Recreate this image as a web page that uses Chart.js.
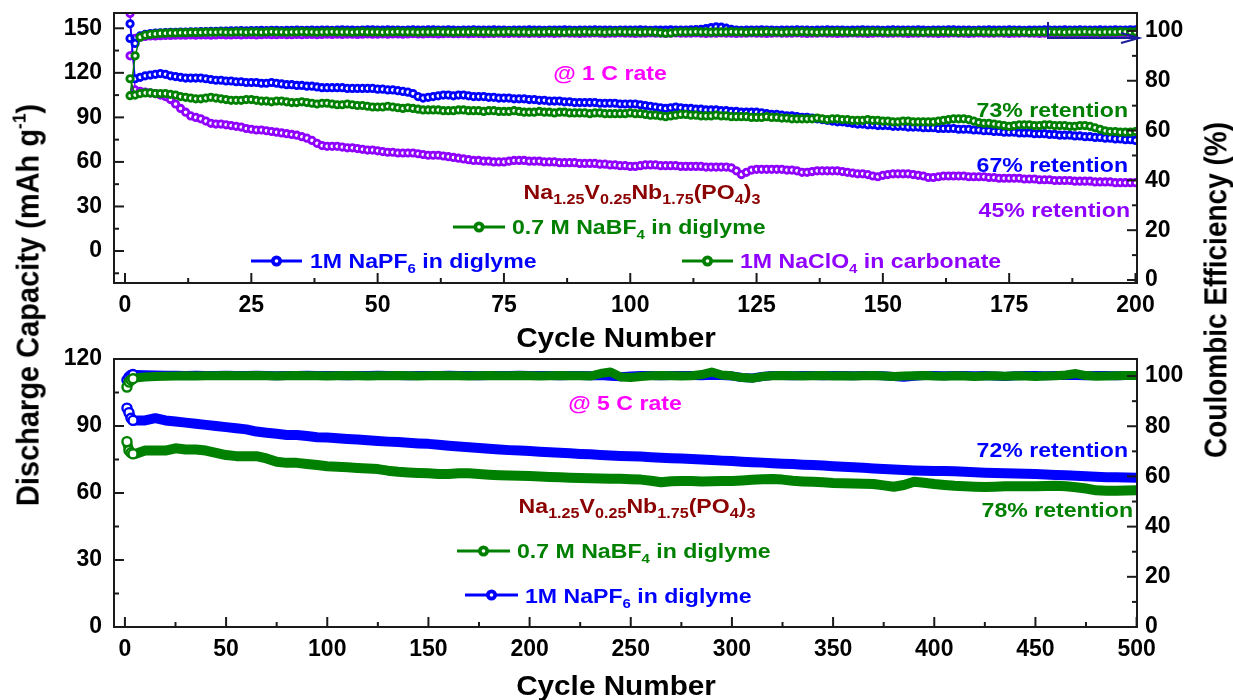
<!DOCTYPE html>
<html>
<head>
<meta charset="utf-8">
<script src="https://cdn.jsdelivr.net/npm/chart.js@4.4.0/dist/chart.umd.min.js"></script>
<style>
body { margin: 0; background: #fff; width: 1233px; height: 700px; position: relative; overflow: hidden; font-family: "Liberation Sans", Arial, sans-serif; }
#top { position: absolute; left: 0; top: 0; }
#bot { position: absolute; left: 0; top: 340px; }
.ytitle { position: absolute; font-weight: bold; font-size: 28px; white-space: nowrap; color: #000; transform: translate(-50%, -50%) rotate(-90deg) scaleY(1.1); }
.ytitle sup { font-size: 0.6em; vertical-align: 0.7em; line-height: 0; }
</style>
</head>
<body>
<canvas id="top" width="1233" height="360"></canvas>
<canvas id="bot" width="1233" height="360"></canvas>
<div class="ytitle" style="left:28px; top:305px; font-size:29px;">Discharge Capacity (mAh g<sup>-1</sup>)</div>
<div class="ytitle" style="left:1216px; top:290px;">Coulombic Efficiency (%)</div>
<script>
// ---------- data: 1 C rate, cycles 1..200 ----------
var cycles1C = [];
for (var i = 1; i <= 200; i++) cycles1C.push(i);

var capPF6_1C = [
  153, 116, 117, 118, 118.5, 119, 119.5, 119, 118, 117.5,
  117, 116.5, 116.5, 116.5, 116.5, 116, 115.5, 115, 115, 114.5,
  114.5, 114, 114, 113.5, 113.5, 113.5, 113, 113, 113.5, 113,
  112.5, 112, 112, 111.5, 111.5, 111, 111, 110.5, 110, 110,
  110, 110, 110, 109.5, 109.5, 109.5, 109.5, 109.5, 109.5, 109,
  109, 108.5, 108.5, 108, 107.5, 107, 106, 104, 103, 103.5,
  104, 104.5, 105, 105, 104.5, 105, 105, 104.5, 104, 104,
  104, 103.5, 103.5, 103, 103, 103, 102.5, 102.5, 102.5, 102,
  102, 101.5, 101.5, 101, 101, 101, 100.5, 100.5, 100, 100,
  100, 100, 100, 99.5, 99.5, 99.5, 99.5, 99, 99, 99,
  99, 98.5, 98, 97.5, 97, 96.5, 96, 96.5, 97, 96.5,
  96, 96, 95.5, 95.5, 95, 95, 95, 94.5, 94.5, 94,
  94, 93.5, 93.5, 93.5, 93.5, 93, 92.5, 92, 92, 91.5,
  91, 91, 90.5, 90, 90, 89.5, 89, 88.5, 88, 87.5,
  87, 87, 86.5, 86, 85.5, 85.5, 85, 85, 84.5, 84.5,
  84.5, 84, 84, 84, 83.5, 83.5, 83.5, 83, 83, 83,
  82.5, 82.5, 82.5, 82.5, 82, 82, 82, 81.5, 81.5, 81,
  81, 80.5, 80.5, 80, 80, 80, 79.5, 79.5, 79.5, 79,
  79, 79, 78.5, 78.5, 78, 78, 78, 77.5, 77.5, 77,
  77, 76.5, 76.5, 76, 76, 75.5, 75.5, 75, 75, 74.5
];
var capBF4_1C = [
  116, 105, 106, 106.5, 106.5, 106, 106, 106, 105.5, 105,
  104, 103.5, 103, 102.5, 102.5, 103, 103.5, 103, 102.5, 102,
  101.5, 101.5, 101.5, 102, 102, 101.5, 101, 101, 100.5, 101,
  101, 100.5, 100, 100, 100.5, 100, 99.5, 99, 99.5, 99.5,
  99, 98.5, 98.5, 99, 98.5, 98, 98, 97.5, 97, 97,
  97, 97.5, 97, 96.5, 96, 96.5, 96, 95.5, 95, 95,
  95, 95, 94.5, 94.5, 94.5, 95, 95, 94.5, 94.5, 94.5,
  94, 94.5, 94.5, 94, 94, 94, 94.5, 94, 93.5, 93.5,
  93.5, 94, 93.5, 93.5, 93, 93.5, 93.5, 93, 93, 93,
  93, 92.5, 93, 93, 92.5, 92.5, 92.5, 92.5, 92.5, 93,
  92.5, 92.5, 92, 91.5, 91.5, 91, 90.5, 91, 91.5, 92,
  92, 91.5, 91.5, 91, 91, 91, 91.5, 91, 91, 90.5,
  90.5, 90.5, 90.5, 90, 90, 90, 90.5, 90, 90, 89.5,
  89.5, 89, 89, 89, 89, 89, 89.5, 89, 88.5, 89,
  89, 88.5, 88.5, 88, 88, 88, 88.5, 88, 88, 87.5,
  87.5, 87, 87, 87.5, 87.5, 87, 87, 87, 87, 87,
  87.5, 88, 88.5, 89, 89, 89, 88.5, 87.5, 86.5, 86,
  86, 85.5, 85, 84.5, 84, 84.5, 85, 85, 85, 84.5,
  84.5, 85, 85, 84.5, 84.5, 84.5, 84, 84, 84.5, 84.5,
  84, 83, 82, 81, 80.5, 80.5, 80, 80, 80, 80.5
];
var capClO4_1C = [
  160, 108.5, 107.5, 107, 106.5, 106, 105, 104, 102, 99,
  96, 93.5, 91, 90, 89, 87.5, 86, 85.5, 85.5, 85,
  84.5, 84, 83.5, 82.5, 82, 81.5, 81.5, 81, 80.5, 80,
  79.5, 79, 78.5, 78, 77, 76, 74.5, 72.5, 71, 70.5,
  70.5, 70.5, 70, 69.5, 69.5, 69, 68.5, 68, 68, 67.5,
  67, 66.5, 66.5, 66, 66, 66, 66, 65.5, 65, 64.5,
  64.5, 64.5, 64, 63.5, 63, 62.5, 62, 61.5, 61, 61,
  60.5, 60.5, 60, 60, 60, 60.5, 61, 61, 61, 60.5,
  60.5, 60.5, 60, 60, 60, 59.5, 59.5, 59.5, 59.5, 59,
  59, 59, 59, 58.5, 58.5, 58, 58, 57.5, 57.5, 57,
  57, 57.5, 58, 58, 58, 57.5, 57.5, 57.5, 57.5, 57,
  57, 57, 57, 57, 56.5, 56.5, 56.5, 56.5, 56.5, 56,
  54, 51.5, 53, 54.5, 55, 55, 55, 55, 55, 55,
  54.5, 54.5, 54, 53, 53, 53.5, 54, 54, 54, 54,
  54, 53.5, 53, 52.5, 52, 52, 51.5, 50.5, 50, 51,
  51.5, 52, 52, 52, 52, 51.5, 51, 50.5, 49.5, 49.5,
  50, 50.5, 50.5, 50.5, 50.5, 50.5, 50, 50, 50, 50,
  49.5, 49.5, 49, 49, 49, 49, 49, 48.5, 48.5, 48.5,
  48, 48, 48, 47.5, 47.5, 47.5, 47.5, 47, 47, 47,
  47, 46.5, 46.5, 46.5, 46.5, 46, 46, 46, 46, 46
];
var cePF6_1C = [
  97, 95, 98, 98.6, 98.9, 99.1, 99.2, 99.3, 99.4, 99.4,
  99.5, 99.5, 99.6, 99.6, 99.7, 99.7, 99.8, 99.8, 99.9, 99.9,
  100, 100, 100.1, 100, 100.1, 100.1, 100.2, 100.1, 100.2, 100.2,
  100.1, 100.2, 100.2, 100.3, 100.2, 100.2, 100.3, 100.2, 100.3, 100.3,
  100.2, 100.3, 100.4, 100.3, 100.3, 100.2, 100.3, 100.4, 100.4, 100.3,
  100.3, 100.4, 100.3, 100.3, 100.2, 100.3, 100.4, 100.3, 100.3, 100.4,
  100.4, 100.3, 100.3, 100.4, 100.3, 100.2, 100.3, 100.3, 100.4, 100.3,
  100.3, 100.3, 100.4, 100.3, 100.3, 100.2, 100.3, 100.3, 100.3, 100.4,
  100.3, 100.3, 100.2, 100.3, 100.3, 100.3, 100.4, 100.3, 100.2, 100.3,
  100.3, 100.3, 100.4, 100.3, 100.3, 100.3, 100.2, 100.3, 100.3, 100.3,
  100.3, 100.4, 100.3, 100.2, 100.3, 100.3, 100.3, 100.4, 100.3, 100.3,
  100.3, 100.4, 100.5, 100.6, 100.9, 101.3, 101.6, 101.5, 101.1, 100.6,
  100.3, 100.2, 100.3, 100.3, 100.3, 100.4, 100.3, 100.3, 100.2, 100.3,
  100.3, 100.3, 100.4, 100.3, 100.3, 100.2, 100.3, 100.3, 100.4, 100.3,
  100.3, 100.3, 100.2, 100.3, 100.3, 100.4, 100.3, 100.3, 100.3, 100.2,
  100.3, 100.4, 100.3, 100.3, 100.3, 100.3, 100.4, 100.3, 100.2, 100.3,
  100.3, 100.3, 100.4, 100.4, 100.3, 100.3, 100.3, 100.2, 100.3, 100.3,
  100.4, 100.3, 100.3, 100.3, 100.4, 100.3, 100.3, 100.2, 100.3, 100.3,
  100.3, 100.4, 100.3, 100.3, 100.3, 100.4, 100.3, 100.3, 100.4, 100.3,
  100.3, 100.3, 100.4, 100.3, 100.3, 100.4, 100.3, 100.3, 100.4, 100.4
];
var ceBF4_1C = [
  74, 90, 97.5, 98.3, 98.6, 98.8, 99, 99.1, 99.2, 99.2,
  99.3, 99.3, 99.4, 99.4, 99.4, 99.5, 99.5, 99.5, 99.6, 99.5,
  99.5, 99.6, 99.6, 99.5, 99.6, 99.6, 99.5, 99.6, 99.7, 99.6,
  99.6, 99.5, 99.6, 99.6, 99.7, 99.6, 99.6, 99.5, 99.6, 99.6,
  99.7, 99.6, 99.6, 99.6, 99.5, 99.6, 99.7, 99.6, 99.6, 99.6,
  99.5, 99.6, 99.6, 99.7, 99.6, 99.6, 99.6, 99.5, 99.6, 99.6,
  99.6, 99.7, 99.6, 99.6, 99.5, 99.6, 99.6, 99.6, 99.7, 99.6,
  99.6, 99.6, 99.5, 99.6, 99.6, 99.7, 99.6, 99.6, 99.6, 99.5,
  99.6, 99.6, 99.6, 99.7, 99.6, 99.6, 99.5, 99.6, 99.6, 99.6,
  99.7, 99.6, 99.6, 99.6, 99.5, 99.6, 99.6, 99.7, 99.6, 99.6,
  99.6, 99.5, 99.6, 99.6, 99.5, 99.3, 99.1, 99.2, 99.5, 99.6,
  99.6, 99.6, 99.7, 99.6, 99.6, 99.5, 99.6, 99.6, 99.6, 99.7,
  99.6, 99.6, 99.5, 99.6, 99.6, 99.6, 99.7, 99.6, 99.6, 99.5,
  99.6, 99.6, 99.6, 99.7, 99.6, 99.6, 99.5, 99.6, 99.6, 99.6,
  99.7, 99.6, 99.6, 99.5, 99.6, 99.6, 99.6, 99.7, 99.6, 99.6,
  99.5, 99.6, 99.6, 99.6, 99.7, 99.6, 99.6, 99.5, 99.6, 99.6,
  99.6, 99.7, 99.6, 99.6, 99.5, 99.6, 99.6, 99.6, 99.7, 99.6,
  99.6, 99.5, 99.6, 99.6, 99.6, 99.7, 99.6, 99.6, 99.5, 99.6,
  99.6, 99.6, 99.7, 99.6, 99.6, 99.5, 99.6, 99.6, 99.6, 99.7,
  99.6, 99.6, 99.5, 99.6, 99.6, 99.6, 99.7, 99.6, 99.6, 99.6
];
var ceClO4_1C = [
  90, 97, 97.5, 97.8, 98, 98, 98.1, 98.2, 98.2, 98.3,
  98.3, 98.3, 98.4, 98.3, 98.4, 98.4, 98.3, 98.4, 98.5, 98.4,
  98.4, 98.5, 98.4, 98.5, 98.5, 98.4, 98.5, 98.6, 98.5, 98.5,
  98.6, 98.5, 98.5, 98.6, 98.5, 98.6, 98.6, 98.5, 98.6, 98.7,
  98.6, 98.7, 98.6, 98.7, 98.7, 98.6, 98.7, 98.8, 98.7, 98.7,
  98.8, 98.7, 98.8, 98.8, 98.7, 98.8, 98.9, 98.8, 98.8, 98.9,
  98.9, 98.8, 98.9, 99, 98.9, 98.9, 99, 98.9, 99, 99,
  98.9, 99, 99, 99.1, 99, 99, 99.1, 99, 99.1, 99,
  99.1, 99, 99.1, 99.1, 99, 99.1, 99.2, 99.1, 99.1, 99,
  99.1, 99.1, 99.2, 99.1, 99, 99.1, 99.1, 99.2, 99.1, 99.1,
  99, 99.1, 99.1, 99.2, 99.1, 99.1, 99, 99.1, 99.2, 99.1,
  99.1, 99.1, 99.2, 99.1, 99, 99.1, 99.1, 99.2, 99.1, 99.1,
  99, 99.1, 99.1, 99.2, 99.1, 99.1, 99, 99.1, 99.2, 99.1,
  99.1, 99.1, 99.2, 99.1, 99, 99.1, 99.1, 99.2, 99.1, 99.1,
  99, 99.1, 99.1, 99.2, 99.1, 99.1, 99, 99.1, 99.2, 99.1,
  99.1, 99.1, 99.2, 99.1, 99, 99.1, 99.1, 99.2, 99.1, 99.1,
  99, 99.1, 99.1, 99.2, 99.1, 99.1, 99, 99.1, 99.2, 99.1,
  99.1, 99.1, 99.2, 99.1, 99, 99.1, 99.1, 99.2, 99.1, 99.1,
  99, 99.1, 99.1, 99.2, 99.1, 99.1, 99, 99.1, 99.2, 99.1,
  99.1, 99.1, 99.2, 99.1, 99, 99.1, 99.1, 99.2, 99.1, 99.1
];

// ---------- data: 5 C rate, cycles 1-4 then every 5th cycle up to 500 ----------
var cycles5C = [1, 2, 3, 4];
for (var c = 5; c <= 500; c += 5) cycles5C.push(c);

var capPF6_5C = [
  98, 96, 93.5, 92.5,
  92.5, 92.5, 93.5, 92.5, 92, 91.5, 91, 90.5, 90, 89.5,
  89, 88.5, 87.5, 87, 86.5, 86, 86, 85.5, 85, 84.8,
  84.5, 84.2, 84, 83.6, 83.3, 83, 82.8, 82.5, 82.2, 82,
  81.6, 81.2, 80.8, 80.5, 80.2, 79.8, 79.5, 79.2, 79, 78.8,
  78.5, 78.2, 78, 77.8, 77.5, 77.3, 77, 76.8, 76.6, 76.5,
  76.3, 76, 75.8, 75.6, 75.4, 75.2, 75, 74.8, 74.5, 74.3,
  74, 73.8, 73.6, 73.3, 73.1, 73, 72.7, 72.5, 72.3, 72,
  71.8, 71.5, 71.3, 71, 70.8, 70.5, 70.3, 70.1, 70, 69.9,
  69.8, 69.7, 69.5, 69.3, 69.1, 69, 68.8, 68.7, 68.6, 68.5,
  68.3, 68.1, 67.9, 67.7, 67.5, 67.3, 67.1, 67, 66.9, 66.8
];
var capBF4_5C = [
  83, 79, 78, 77.5,
  77.5, 79, 79, 79, 80, 79.5, 79.5, 79, 78, 77,
  76.5, 76.5, 76.5, 75.5, 74, 73.5, 73.5, 73, 72.5, 72,
  71.8, 71.5, 71.2, 71, 70.7, 70, 69.5, 69.2, 69, 68.8,
  68.5, 68.5, 68.8, 68.8, 68.5, 68.2, 68, 67.8, 67.7, 67.6,
  67.4, 67.2, 67, 66.8, 66.7, 66.6, 66.5, 66.4, 66.4, 66.2,
  66, 65.5, 64.8, 65.3, 65.4, 65.4, 65.2, 65.3, 65.4, 65.4,
  65.6, 65.9, 66.2, 66.3, 66, 65.5, 65.2, 65, 64.8, 64.5,
  64.4, 64.2, 64.1, 64, 63.4, 62.8, 63.6, 65, 64.6, 64,
  63.6, 63.2, 63, 62.8, 62.7, 62.8, 63, 63, 63, 63,
  63.1, 63.2, 63, 62.6, 62, 61.2, 61, 61, 61.1, 61.2
];
var cePF6_5C = [
  98.4, 99.6, 100.3, 100.6,
  100.6, 100.5, 100.4, 100.3, 100.3, 100.2, 100.3, 100.2, 100.2, 100.3,
  100.2, 100.2, 100.3, 100.2, 100.1, 100.2, 100.2, 100.3, 100.2, 100.2,
  100.2, 100.1, 100.2, 100.2, 100.3, 100.2, 100.2, 100.1, 100.2, 100.2,
  100.2, 100.3, 100.2, 100.2, 100.1, 100.2, 100.2, 100.2, 100.3, 100.2,
  100.2, 100.2, 100.1, 100.2, 100.2, 100.1, 100.2, 99.9, 99.7, 100,
  100.2, 100.2, 100.1, 100.2, 100.2, 100.2, 100.1, 100.3, 100.2, 100,
  99.4, 99.2, 99.8, 100.2, 100.2, 100.1, 100.2, 100.2, 100.1, 100.2,
  100.2, 100.1, 100.2, 100.2, 100.1, 99.8, 99.5, 99.9, 100.2, 100.2,
  100.1, 100.2, 100.2, 100.1, 100.2, 100, 99.8, 100.1, 100.2, 100.2,
  100.1, 100.2, 100.2, 100.2, 100.1, 100.2, 100.2, 100.1, 100.2, 100.2
];
var ceBF4_5C = [
  95.6, 97.6, 98.4, 98.9,
  99.2, 99.6, 99.8, 99.9, 100, 100.1, 100, 100.1, 100.1, 100.2,
  100.1, 100.1, 100.2, 100.1, 100, 100.1, 100.2, 100.1, 100.1, 100,
  100.1, 100.2, 100.1, 100, 100.1, 100.1, 100.2, 100.1, 100, 100.1,
  100.2, 100.1, 100.1, 100, 100.1, 100.2, 100.1, 100.1, 100.2, 100.1,
  100, 100.1, 100.2, 100.1, 100.1, 100, 101, 101.6, 99.6, 99.4,
  99.8, 100.1, 100.2, 100.1, 100, 100.1, 100.6, 101.6, 100.4, 100.1,
  99.4, 99.1, 99.8, 100.1, 100.2, 100.1, 100, 100.1, 100.2, 100,
  100.1, 100, 100.1, 100.2, 100, 99.8, 100, 100.1, 100.2, 100,
  99.9, 100.1, 100, 99.8, 100, 100.1, 99.9, 100.1, 100, 99.8,
  100, 100.1, 100.4, 101, 100.2, 99.9, 100, 100.1, 100.2, 100.2
];

// ---------- styling ----------
var BLUE = '#0000ff', GREEN = '#008000', PURPLE = '#8f00ff', MAGENTA = '#ff00ff', DARKRED = '#8b0000', NAVY = '#1c1c9e';
var FONT = '"Liberation Sans", Arial, sans-serif';
var SX = 1.1; // reference text is slightly wide

function series(xs, ys, color, axis, order, extra) {
    var d = {
        data: xs.map(function (x, i) { return {x: x, y: ys[i]}; }),
        yAxisID: axis,
        order: order,
        borderColor: color,
        backgroundColor: '#fff',
        pointBorderColor: color,
        pointBackgroundColor: '#fff',
        borderWidth: 1.5,
        pointRadius: 3.2,
        pointBorderWidth: 2.8,
        tension: 0
    };
    for (var k in extra) d[k] = extra[k];
    return d;
}

function thick(w) {
    return {
        borderWidth: w,
        borderJoinStyle: 'round',
        borderCapStyle: 'round',
        pointRadius: function (ctx) { return ctx.dataIndex < 4 ? 4.5 : 0; },
        pointBorderWidth: 2.4
    };
}

// inward major/minor ticks plus the plot frame
var axisFrame = {
    id: 'axisFrame',
    afterDatasetsDraw: function (chart) {
        var ctx = chart.ctx, a = chart.chartArea, s = chart.scales;
        ctx.save();
        ctx.strokeStyle = '#1a1a1a';
        ctx.lineWidth = 2;
        function seg(x1, y1, x2, y2) { ctx.beginPath(); ctx.moveTo(x1, y1); ctx.lineTo(x2, y2); ctx.stroke(); }
        function marks(sc) {
            var vals = sc.ticks.map(function (t) { return t.value; });
            var step = vals[1] - vals[0], out = [];
            vals.forEach(function (v) { out.push([v, 10]); });
            for (var v = vals[0] - step / 2; v <= sc.max; v += step) if (v >= sc.min) out.push([v, 5]);
            return out;
        }
        marks(s.x).forEach(function (m) { var p = s.x.getPixelForValue(m[0]); seg(p, a.bottom, p, a.bottom - m[1]); });
        marks(s.yL).forEach(function (m) { var p = s.yL.getPixelForValue(m[0]); seg(a.left, p, a.left + m[1], p); });
        marks(s.yR).forEach(function (m) { var p = s.yR.getPixelForValue(m[0]); seg(a.right, p, a.right - m[1], p); });
        ctx.strokeRect(a.left, a.top, a.right - a.left, a.bottom - a.top);
        ctx.restore();
    }
};

function richText(ctx, n) {
    var subK = n.sub || 0.65;
    function sz(k) { return k ? n.size * subK : n.size; }
    var w = 0;
    n.parts.forEach(function (p) { ctx.font = 'bold ' + sz(p[1]) + 'px ' + FONT; w += ctx.measureText(p[0]).width; });
    w *= SX;
    var x0 = n.align === 'right' ? n.x - w : (n.align === 'center' ? n.x - w / 2 : n.x);
    ctx.save();
    ctx.translate(x0, n.y);
    ctx.scale(SX, 1);
    ctx.fillStyle = n.color;
    ctx.textBaseline = 'alphabetic';
    ctx.textAlign = 'left';
    var cx = 0;
    n.parts.forEach(function (p) {
        ctx.font = 'bold ' + sz(p[1]) + 'px ' + FONT;
        ctx.fillText(p[0], cx, p[1] ? n.size * 0.25 : 0);
        cx += ctx.measureText(p[0]).width;
    });
    ctx.restore();
}

function legendMark(ctx, n) {
    var cx = (n.x1 + n.x2) / 2;
    ctx.save();
    ctx.strokeStyle = n.color;
    ctx.lineWidth = 3;
    ctx.beginPath(); ctx.moveTo(n.x1, n.y); ctx.lineTo(n.x2, n.y); ctx.stroke();
    ctx.fillStyle = n.color;
    ctx.beginPath(); ctx.arc(cx, n.y, 5.5, 0, 2 * Math.PI); ctx.fill();
    ctx.fillStyle = '#fff';
    ctx.beginPath(); ctx.arc(cx, n.y, 1.8, 0, 2 * Math.PI); ctx.fill();
    ctx.restore();
}

var notes = {
    id: 'notes',
    afterDraw: function (chart, args, opts) {
        var ctx = chart.ctx;
        (opts.items || []).forEach(function (n) {
            if (n.kind === 'text') richText(ctx, n);
            else if (n.kind === 'mark') legendMark(ctx, n);
            else if (n.kind === 'arrow') {
                ctx.save();
                ctx.strokeStyle = NAVY;
                ctx.lineWidth = 2;
                ctx.beginPath();
                ctx.moveTo(1048, 22); ctx.lineTo(1048, 38); ctx.lineTo(1138, 38);
                ctx.moveTo(1121, 33); ctx.lineTo(1139, 38); ctx.lineTo(1121, 43);
                ctx.stroke();
                ctx.restore();
            }
        });
    }
};

var formula = [['Na', 0], ['1.25', 1], ['V', 0], ['0.25', 1], ['Nb', 0], ['1.75', 1], ['(PO', 0], ['4', 1], [')', 0], ['3', 1]];

function tickFont() { return {family: FONT, size: 23, weight: 'bold'}; }

function makeChart(id, datasets, lim, notesList) {
    var xStep = lim.xStep, xHeight = lim.xHeight;
    return new Chart(document.getElementById(id), {
        type: 'line',
        data: {datasets: datasets},
        options: {
            responsive: false,
            devicePixelRatio: 1,
            animation: false,
            events: [],
            layout: {padding: {top: lim.top, left: 0, right: 0, bottom: 0}},
            plugins: {legend: {display: false}, tooltip: {enabled: false}, notes: {items: notesList}},
            scales: {
                x: {
                    type: 'linear', position: 'bottom', min: lim.x[0], max: lim.x[1],
                    grid: {display: false, drawTicks: false}, border: {display: false},
                    ticks: {stepSize: xStep, includeBounds: false, padding: 9, maxRotation: 0, autoSkip: false, color: '#000', font: tickFont()},
                    afterFit: function (s) { s.height = xHeight; s.paddingLeft = 0; s.paddingRight = 0; }
                },
                yL: {
                    type: 'linear', position: 'left', min: lim.yL[0], max: lim.yL[1],
                    grid: {display: false, drawTicks: false}, border: {display: false},
                    ticks: {stepSize: 30, includeBounds: false, padding: 12, color: '#000', font: tickFont()},
                    afterFit: function (s) { s.width = 114; s.paddingTop = 0; s.paddingBottom = 0; }
                },
                yR: {
                    type: 'linear', position: 'right', min: lim.yR[0], max: lim.yR[1],
                    grid: {display: false, drawTicks: false}, border: {display: false},
                    ticks: {stepSize: 20, includeBounds: false, padding: 8, color: '#000', font: tickFont()},
                    afterFit: function (s) { s.width = 96; s.paddingTop = 0; s.paddingBottom = 0; }
                }
            }
        },
        plugins: [axisFrame, notes]
    });
}

// ---------- top panel: 1 C ----------
makeChart('top', [
    series(cycles1C, capBF4_1C, GREEN, 'yL', 0),
    series(cycles1C, ceBF4_1C, GREEN, 'yR', 0),
    series(cycles1C, capPF6_1C, BLUE, 'yL', 1),
    series(cycles1C, cePF6_1C, BLUE, 'yR', 1),
    series(cycles1C, capClO4_1C, PURPLE, 'yL', 2),
    series(cycles1C, ceClO4_1C, PURPLE, 'yR', 2)
], {top: 13, xHeight: 77, xStep: 25, x: [-2.18, 200.3], yL: [-21.55, 160.3], yR: [-1.2, 107.2]}, [
    {kind: 'text', parts: [['@ 1 C rate', 0]], x: 610, y: 80, size: 21, color: MAGENTA, align: 'center'},
    {kind: 'text', parts: formula, x: 642, y: 199, size: 21, sub: 0.7, color: DARKRED, align: 'center'},
    {kind: 'mark', x1: 453, x2: 505, y: 227, color: GREEN},
    {kind: 'text', parts: [['0.7 M NaBF', 0], ['4', 1], [' in diglyme', 0]], x: 512, y: 234, size: 21, color: GREEN},
    {kind: 'mark', x1: 251, x2: 302, y: 261, color: BLUE},
    {kind: 'text', parts: [['1M NaPF', 0], ['6', 1], [' in diglyme', 0]], x: 310, y: 268, size: 21, color: BLUE},
    {kind: 'mark', x1: 682, x2: 733, y: 261, color: GREEN},
    {kind: 'text', parts: [['1M NaClO', 0], ['4', 1], [' in carbonate', 0]], x: 740, y: 268, size: 21, color: PURPLE},
    {kind: 'text', parts: [['73% retention', 0]], x: 1128, y: 117, size: 21, color: GREEN, align: 'right'},
    {kind: 'text', parts: [['67% retention', 0]], x: 1128, y: 172, size: 21, color: BLUE, align: 'right'},
    {kind: 'text', parts: [['45% retention', 0]], x: 1130, y: 217, size: 21, color: PURPLE, align: 'right'},
    {kind: 'text', parts: [['Cycle Number', 0]], x: 616, y: 347, size: 27, color: '#000', align: 'center'},
    {kind: 'arrow'}
]);

// ---------- bottom panel: 5 C ----------
makeChart('bot', [
    series(cycles5C, capBF4_5C, GREEN, 'yL', 0, thick(10)),
    series(cycles5C, ceBF4_5C, GREEN, 'yR', 0, thick(9)),
    series(cycles5C, capPF6_5C, BLUE, 'yL', 1, thick(10)),
    series(cycles5C, cePF6_5C, BLUE, 'yR', 1, thick(9))
], {top: 19, xHeight: 73, xStep: 50, x: [-5.4, 500.2], yL: [0, 120], yR: [0, 106.8]}, [
    {kind: 'text', parts: [['@ 5 C rate', 0]], x: 625, y: 70, size: 21, color: MAGENTA, align: 'center'},
    {kind: 'text', parts: formula, x: 637, y: 173, size: 21, sub: 0.7, color: DARKRED, align: 'center'},
    {kind: 'mark', x1: 457, x2: 510, y: 211, color: GREEN},
    {kind: 'text', parts: [['0.7 M NaBF', 0], ['4', 1], [' in diglyme', 0]], x: 517, y: 218, size: 21, color: GREEN},
    {kind: 'mark', x1: 465, x2: 518, y: 255, color: BLUE},
    {kind: 'text', parts: [['1M NaPF', 0], ['6', 1], [' in diglyme', 0]], x: 525, y: 263, size: 21, color: BLUE},
    {kind: 'text', parts: [['72% retention', 0]], x: 1128, y: 117, size: 21, color: BLUE, align: 'right'},
    {kind: 'text', parts: [['78% retention', 0]], x: 1133, y: 177, size: 21, color: GREEN, align: 'right'},
    {kind: 'text', parts: [['Cycle Number', 0]], x: 616, y: 355, size: 27, color: '#000', align: 'center'}
]);
</script>
</body>
</html>
